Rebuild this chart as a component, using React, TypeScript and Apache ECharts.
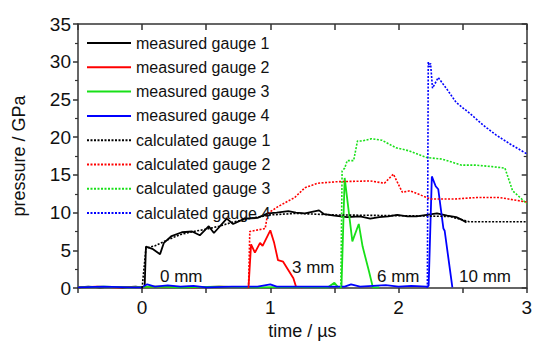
import React, { useEffect, useRef } from "react";
import * as echarts from "echarts";

const seriesNames = [
  "measured gauge 1",
  "measured gauge 2",
  "measured gauge 3",
  "measured gauge 4",
  "calculated gauge 1",
  "calculated gauge 2",
  "calculated gauge 3",
  "calculated gauge 4",
];

const measured1 = [
  [-0.5, 0.1], [-0.42, 0.2], [-0.33, 0.1], [-0.25, 0.15], [-0.15, 0.1], [-0.05, 0.2], [0.0, 0.1], [0.02, 0.2],
  [0.03, 5.5], [0.08, 5.2], [0.14, 4.5], [0.17, 6.0], [0.23, 6.9], [0.31, 7.4], [0.39, 7.5], [0.45, 7.0],
  [0.52, 8.2], [0.56, 7.3], [0.66, 9.2], [0.71, 8.5], [0.8, 9.2], [0.9, 9.3], [0.98, 9.9], [1.05, 10.0],
  [1.14, 10.2], [1.2, 10.0], [1.27, 9.9], [1.38, 10.3], [1.42, 9.8], [1.5, 9.6], [1.6, 9.4], [1.7, 9.5],
  [1.78, 9.2], [1.85, 9.4], [1.92, 9.5], [1.99, 9.7], [2.07, 9.5], [2.14, 9.5], [2.22, 9.7], [2.3, 9.9],
  [2.38, 9.6], [2.45, 9.4], [2.5, 9.0], [2.53, 8.7],
];

const measured2 = [
  [-0.5, 0.1], [-0.35, 0.2], [-0.2, 0.1], [0.0, 0.15], [0.2, 0.2], [0.4, 0.1], [0.6, 0.2], [0.83, 0.1],
  [0.85, 5.8], [0.88, 4.7], [0.92, 6.0], [0.94, 5.6], [1.0, 7.65], [1.03, 6.0], [1.06, 3.7], [1.1, 3.5],
  [1.14, 2.4], [1.18, 1.3], [1.2, 0.2], [1.25, 0.1],
];

const measured3 = [
  [-0.5, 0.1], [-0.3, 0.2], [-0.1, 0.1], [0.1, 0.2], [0.3, 0.1], [0.6, 0.2], [0.9, 0.1], [1.2, 0.15],
  [1.45, 0.1], [1.5, 0.7], [1.53, 0.1], [1.555, 0.1], [1.58, 14.6], [1.64, 6.2], [1.69, 8.5], [1.72, 5.5],
  [1.77, 2.2], [1.8, 0.1], [1.85, 0.1],
];

const measured4 = [
  [-0.5, 0.1], [-0.3, 0.2], [-0.1, 0.1], [0.0, 0.1], [0.04, 0.5], [0.1, 0.2], [0.2, 0.35], [0.3, 0.2],
  [0.4, 0.3], [0.5, 0.1], [0.7, 0.2], [0.9, 0.2], [1.0, 0.5], [1.05, 0.2], [1.2, 0.2], [1.4, 0.2],
  [1.58, 0.2], [1.63, 0.5], [1.7, 0.2], [1.9, 0.4], [2.0, 0.2], [2.1, 0.3], [2.22, 0.2], [2.235, 0.3],
  [2.26, 14.8], [2.29, 13.5], [2.31, 13.1], [2.35, 7.9], [2.36, 7.6], [2.42, 0.1],
];

const calculated1 = [
  [0.0, 0.0], [0.03, 5.3], [0.1, 5.6], [0.2, 6.4], [0.3, 7.1], [0.4, 7.5], [0.5, 7.8], [0.6, 8.2],
  [0.7, 8.7], [0.8, 9.1], [0.9, 9.4], [1.0, 9.7], [1.2, 9.9], [1.5, 9.7], [2.0, 9.6], [2.4, 9.5],
  [2.55, 8.8], [3.0, 8.8],
];

const calculated2 = [
  [0.83, 0.0], [0.84, 7.5], [0.96, 7.9], [0.98, 9.9], [1.06, 10.8], [1.19, 12.0], [1.27, 13.3],
  [1.37, 13.9], [1.52, 14.1], [1.78, 14.2], [1.89, 13.9], [1.96, 15.1], [2.03, 12.7], [2.09, 12.9],
  [2.25, 11.8], [2.43, 11.8], [2.61, 12.0], [2.79, 12.0], [3.0, 11.4],
];

const calculated3 = [
  [1.55, 0.0], [1.56, 15.5], [1.58, 15.9], [1.6, 16.9], [1.65, 16.9], [1.68, 19.5], [1.72, 19.5],
  [1.79, 19.8], [1.87, 19.6], [1.98, 18.6], [2.08, 18.2], [2.22, 17.3], [2.34, 17.1], [2.49, 16.3],
  [2.6, 16.3], [2.73, 16.1], [2.83, 15.9], [2.89, 12.9], [3.0, 11.2],
];

const calculated4 = [
  [2.225, 0.0], [2.232, 30.0], [2.24, 29.3], [2.25, 29.8], [2.265, 26.5], [2.31, 27.9], [2.38, 26.3],
  [2.45, 24.6], [2.56, 23.1], [2.66, 21.6], [2.76, 20.3], [2.87, 19.1], [3.0, 17.8],
];

const annotations = ["0 mm", "3 mm", "6 mm", "10 mm"];

const colors = ["#000000", "#ff0000", "#18e018", "#0000ff"];

export default function App() {
  const ref = useRef<HTMLDivElement>(null);
  useEffect(() => {
    if (!ref.current) return;
    const chart = echarts.init(ref.current, null, { renderer: "svg" });
    const font = "'Liberation Sans', Arial, sans-serif";
    const allData = [measured1, measured2, measured3, measured4, calculated1, calculated2, calculated3, calculated4];
    const series = allData.map((d, i) => ({
      name: seriesNames[i],
      type: "line",
      data: d,
      symbol: "none",
      clip: true,
      z: i < 4 ? 2 : 3,
      lineStyle: {
        color: colors[i % 4],
        width: i < 4 ? 1.8 : 1.6,
        type: i < 4 ? "solid" : [2, 1.5],
      },
      itemStyle: { color: colors[i % 4] },
    }));
    const axisLine = { show: true, onZero: false, lineStyle: { color: "#333", width: 1.5 } };
    chart.setOption({
      animation: false,
      textStyle: { fontFamily: font },
      grid: { left: 78, right: 5, top: 24, bottom: 48, containLabel: false },
      legend: {
        orient: "vertical",
        left: 86,
        top: 35,
        padding: 0,
        itemWidth: 44,
        itemHeight: 16,
        itemGap: 8.3,
        data: seriesNames,
        itemStyle: { opacity: 0 },
        textStyle: { fontSize: 16, color: "#111", fontFamily: font },
      },
      xAxis: [
        {
          type: "value",
          position: "bottom",
          min: -0.5,
          max: 3,
          interval: 0.5,
          name: "time / \u00b5s",
          nameLocation: "middle",
          nameGap: 30,
          nameTextStyle: { fontSize: 18, color: "#111" },
          axisLine,
          axisTick: { show: true, inside: false, length: 5, lineStyle: { color: "#333", width: 1.5 } },
          axisLabel: {
            fontSize: 19,
            color: "#111",
            margin: 10,
            formatter: (v: number) => (Math.abs(v - Math.round(v)) < 1e-9 ? String(Math.round(v)) : ""),
          },
          splitLine: { show: false },
        },
        {
          type: "value",
          position: "top",
          min: -0.5,
          max: 3,
          interval: 0.5,
          axisLine,
          axisTick: { show: true, inside: true, length: 6, lineStyle: { color: "#333", width: 1.5 } },
          axisLabel: { show: false },
          splitLine: { show: false },
        },
      ],
      yAxis: [
        {
          type: "value",
          position: "left",
          min: 0,
          max: 35,
          interval: 5,
          name: "pressure / GPa",
          nameLocation: "middle",
          nameGap: 50,
          nameTextStyle: { fontSize: 18, color: "#111" },
          axisLine,
          axisTick: { show: true, inside: false, length: 5, lineStyle: { color: "#333", width: 1.5 } },
          minorTick: { show: true, splitNumber: 2, length: 3, lineStyle: { color: "#333", width: 1.2 } },
          axisLabel: { fontSize: 19, color: "#111", margin: 7 },
          splitLine: { show: false },
        },
        {
          type: "value",
          position: "right",
          min: 0,
          max: 35,
          interval: 5,
          axisLine,
          axisTick: { show: true, inside: true, length: 5, lineStyle: { color: "#333", width: 1.5 } },
          minorTick: { show: true, splitNumber: 2, length: 3, lineStyle: { color: "#333", width: 1.2 } },
          axisLabel: { show: false },
          splitLine: { show: false },
        },
      ],
      series,
      graphic: [
        { type: "text", left: 160, top: 268, style: { text: annotations[0], fontSize: 17, fill: "#111", fontFamily: font } },
        { type: "text", left: 292, top: 259, style: { text: annotations[1], fontSize: 17, fill: "#111", fontFamily: font } },
        { type: "text", left: 377, top: 268, style: { text: annotations[2], fontSize: 17, fill: "#111", fontFamily: font } },
        { type: "text", left: 459, top: 268, style: { text: annotations[3], fontSize: 17, fill: "#111", fontFamily: font } },
      ],
    });
    return () => chart.dispose();
  }, []);
  return <div ref={ref} style={{ width: 535, height: 345, position: "absolute", left: 0, top: 0 }} />;
}
